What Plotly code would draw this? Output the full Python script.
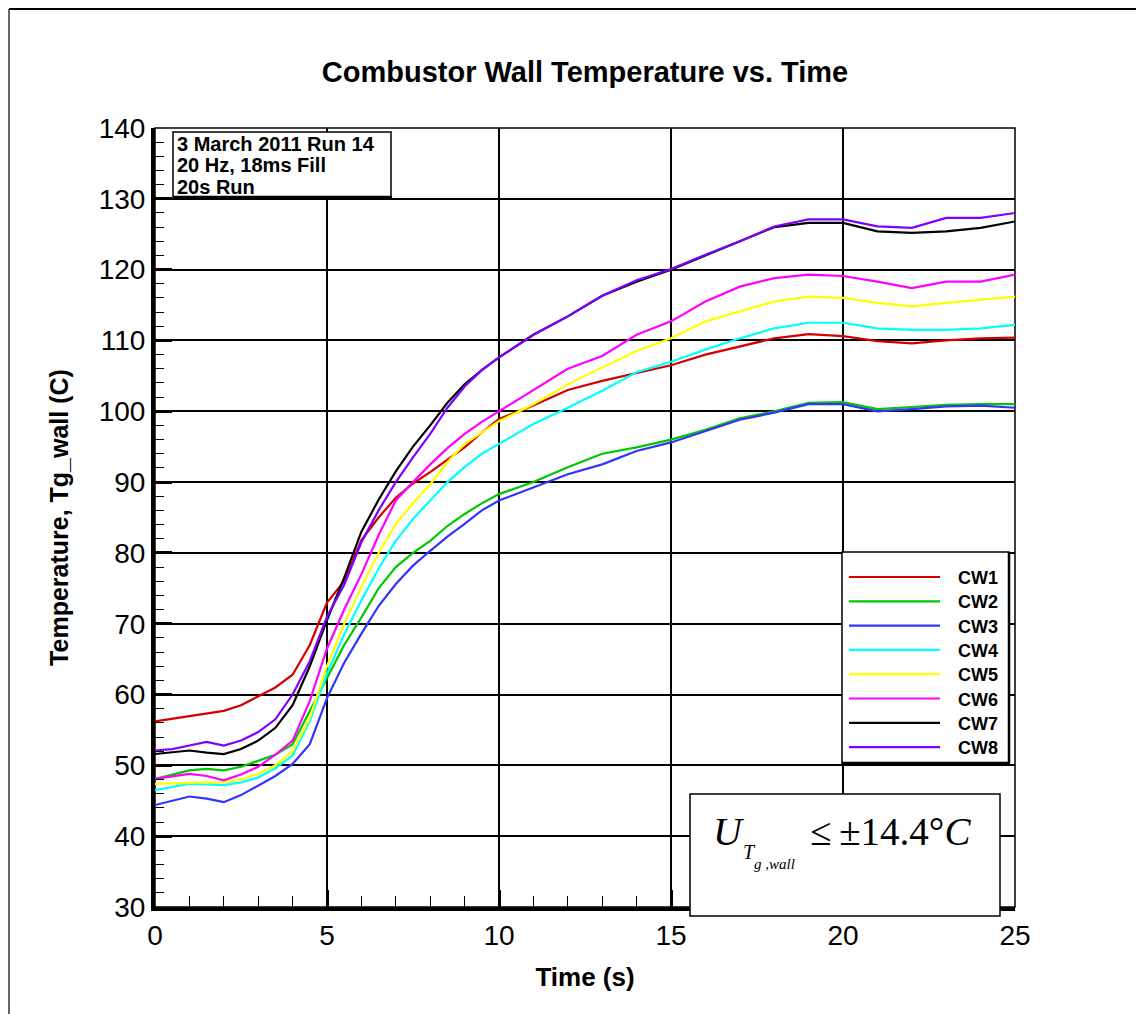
import plotly.graph_objects as go

# ---------------- data ----------------
time_s = [0, 0.5, 1, 1.5, 2, 2.5, 3, 3.5, 4, 4.5, 5, 5.5, 6, 6.5, 7, 7.5, 8, 8.5, 9, 9.5,
          10, 11, 12, 13, 14, 15, 16, 17, 18, 19, 20, 21, 22, 23, 24, 25]

cw1 = [56.2, 56.6, 57.0, 57.3, 57.7, 58.5, 59.8, 61.0, 62.8, 67.0, 73.0, 76.0, 81.8, 85.0, 87.8, 89.8,
       91.4, 93.2, 94.9, 97.0, 98.9, 100.8, 103.0, 104.3, 105.4, 106.5, 108.0, 109.2, 110.3, 110.9,
       110.6, 109.9, 109.6, 110.0, 110.3, 110.4]
cw2 = [48.1, 48.7, 49.3, 49.5, 49.3, 49.8, 50.7, 51.5, 53.0, 57.7, 62.5, 67.0, 70.9, 75.0, 78.0, 80.0,
       81.7, 83.8, 85.5, 87.0, 88.3, 90.0, 92.1, 94.0, 94.9, 96.0, 97.4, 99.0, 100.0, 101.2,
       101.3, 100.3, 100.6, 100.9, 101.0, 101.0]
cw3 = [44.4, 45.0, 45.6, 45.3, 44.8, 45.8, 47.2, 48.5, 50.2, 53.0, 59.5, 64.5, 68.6, 72.5, 75.6, 78.2,
       80.3, 82.3, 84.1, 86.0, 87.4, 89.3, 91.1, 92.5, 94.4, 95.6, 97.2, 98.8, 99.8, 101.0,
       101.0, 100.0, 100.3, 100.7, 100.8, 100.5]
cw4 = [46.5, 46.9, 47.4, 47.3, 47.2, 47.6, 48.3, 49.6, 51.4, 56.3, 63.0, 68.5, 73.3, 77.8, 81.7, 84.8,
       87.4, 90.0, 92.1, 94.0, 95.4, 98.2, 100.5, 102.9, 105.5, 107.0, 108.7, 110.3, 111.7, 112.5,
       112.5, 111.7, 111.5, 111.5, 111.7, 112.2]
cw5 = [47.4, 47.5, 47.6, 47.6, 47.6, 48.0, 48.8, 50.0, 52.0, 56.7, 64.0, 70.0, 75.2, 80.0, 84.1, 87.0,
       89.7, 92.8, 95.4, 97.0, 98.6, 101.0, 103.8, 106.2, 108.5, 110.3, 112.7, 114.1, 115.5, 116.2,
       116.0, 115.3, 114.8, 115.3, 115.8, 116.2]
cw6 = [48.1, 48.4, 48.8, 48.5, 47.9, 48.7, 49.8, 51.5, 53.5, 59.1, 66.5, 72.0, 77.0, 82.5, 87.4, 90.0,
       92.5, 94.8, 96.8, 98.5, 100.0, 102.9, 106.0, 107.8, 110.8, 112.7, 115.5, 117.6, 118.8, 119.3,
       119.1, 118.3, 117.4, 118.3, 118.3, 119.3]
cw7 = [51.6, 51.8, 52.1, 51.8, 51.6, 52.3, 53.5, 55.3, 58.5, 64.0, 70.5, 76.5, 83.0, 87.5, 91.5, 95.0,
       98.0, 101.2, 103.8, 105.8, 107.6, 110.8, 113.4, 116.3, 118.3, 120.0, 122.0, 124.0, 126.0, 126.6,
       126.6, 125.4, 125.2, 125.4, 125.9, 126.8]
cw8 = [52.1, 52.3, 52.8, 53.3, 52.8, 53.5, 54.7, 56.5, 60.0, 64.7, 71.0, 75.5, 81.5, 86.0, 90.0, 93.5,
       96.8, 100.5, 103.5, 105.8, 107.6, 110.8, 113.4, 116.3, 118.5, 120.1, 122.1, 124.0, 126.1, 127.1,
       127.1, 126.1, 125.9, 127.3, 127.3, 128.0]

series_names = ["CW1", "CW2", "CW3", "CW4", "CW5", "CW6", "CW7", "CW8"]
series_values = [cw1, cw2, cw3, cw4, cw5, cw6, cw7, cw8]
series_colors = ["#d40000", "#00c800", "#3333ff", "#00ffff", "#ffff00", "#ff00ff", "#000000", "#8000ff"]

x_ticks = [0, 5, 10, 15, 20, 25]
y_ticks = [30, 40, 50, 60, 70, 80, 90, 100, 110, 120, 130, 140]

info_lines = ["3 March 2011 Run 14", "20 Hz, 18ms Fill", "20s Run"]

# ---------------- layout geometry (page pixels of the 1144x1014 window) ----------------
OFF = 8                      # default body margin of the html page
W, H = 1144 - OFF, 1014 - OFF
PL, PR, PT, PB = 155, 1015, 128, 907   # plot area edges in page pixels


def px(xp):
    return (xp - PL) / (PR - PL)


def py(yp):
    return (PB - yp) / (PB - PT)


FONT = "Liberation Sans, Arial, sans-serif"
SERIF = "Liberation Serif, Times New Roman, serif"

fig = go.Figure()
for name, vals, col in zip(series_names, series_values, series_colors):
    fig.add_trace(go.Scatter(x=time_s, y=vals, mode="lines", name=name,
                             line=dict(color=col, width=2.2), showlegend=False))

shapes = []
annotations = []

# outer page frame (top and left edges)
shapes.append(dict(type="line", xref="paper", yref="paper", x0=px(9), x1=px(1150), y0=py(9), y1=py(9),
                   line=dict(color="black", width=2), layer="above"))
shapes.append(dict(type="line", xref="paper", yref="paper", x0=px(9), x1=px(9), y0=py(9), y1=py(1020),
                   line=dict(color="black", width=1.2), layer="above"))

# thin frame around plot (top / right)
shapes.append(dict(type="rect", xref="paper", yref="paper", x0=0, x1=1, y0=0, y1=1,
                   line=dict(color="black", width=1.5), layer="below"))

# info box
shapes.append(dict(type="rect", xref="paper", yref="paper", x0=px(173), x1=px(391), y0=py(197), y1=py(132),
                   line=dict(color="black", width=1.5), fillcolor="white", layer="above"))
shapes.append(dict(type="line", xref="paper", yref="paper", x0=px(173), x1=px(392), y0=py(197), y1=py(197),
                   line=dict(color="black", width=2.5), layer="above"))
for i, line in enumerate(info_lines):
    annotations.append(dict(text=line, xref="paper", yref="paper", x=px(175), y=py(144 + 21.5 * i),
                            xanchor="left", yanchor="middle", showarrow=False,
                            font=dict(family=FONT, size=20, color="black", weight="bold")))

# legend box (drawn manually to match the long line samples)
shapes.append(dict(type="rect", xref="paper", yref="paper", x0=px(842), x1=px(1009), y0=py(763), y1=py(552),
                   line=dict(color="black", width=1.5), fillcolor="white", layer="above"))
shapes.append(dict(type="line", xref="paper", yref="paper", x0=px(842), x1=px(1010), y0=py(763), y1=py(763),
                   line=dict(color="black", width=2.5), layer="above"))
shapes.append(dict(type="line", xref="paper", yref="paper", x0=px(1009), x1=px(1009), y0=py(763), y1=py(552),
                   line=dict(color="black", width=2.5), layer="above"))
for i, (name, col) in enumerate(zip(series_names, series_colors)):
    yy = 577 + 24.3 * i
    shapes.append(dict(type="line", xref="paper", yref="paper", x0=px(849), x1=px(940), y0=py(yy), y1=py(yy),
                       line=dict(color=col, width=2.2), layer="above"))
    annotations.append(dict(text=name, xref="paper", yref="paper", x=px(956), y=py(yy + 1),
                            xanchor="left", yanchor="middle", showarrow=False,
                            font=dict(family=FONT, size=18, color="black", weight="bold")))

# uncertainty box
shapes.append(dict(type="rect", xref="paper", yref="paper", x0=px(690), x1=px(1000), y0=py(916), y1=py(794),
                   line=dict(color="black", width=1.5), fillcolor="white", layer="above"))
annotations.append(dict(text="<i>U</i>", xref="paper", yref="paper", x=px(711), y=py(831),
                        xanchor="left", yanchor="middle", showarrow=False,
                        font=dict(family=SERIF, size=40, color="black")))
annotations.append(dict(text="<i>T</i>", xref="paper", yref="paper", x=px(741), y=py(852),
                        xanchor="left", yanchor="middle", showarrow=False,
                        font=dict(family=SERIF, size=20, color="black")))
annotations.append(dict(text="<i>g ,wall</i>", xref="paper", yref="paper", x=px(752), y=py(864),
                        xanchor="left", yanchor="middle", showarrow=False,
                        font=dict(family=SERIF, size=15, color="black")))
annotations.append(dict(text="\u2264\u2009\u00b114.4\u00b0<i>C</i>", xref="paper", yref="paper",
                        x=px(808), y=py(831), xanchor="left", yanchor="middle", showarrow=False,
                        font=dict(family=SERIF, size=39, color="black")))

fig.update_layout(
    width=W, height=H,
    margin=dict(l=PL - OFF, r=W - (PR - OFF), t=PT - OFF, b=H - (PB - OFF), autoexpand=False),
    paper_bgcolor="white", plot_bgcolor="white",
    title=dict(text="<b>Combustor Wall Temperature vs. Time</b>", x=0.5, xref="paper",
               y=1 - (72 - OFF) / H, yref="container", xanchor="center", yanchor="middle",
               font=dict(family=FONT, size=29, color="black")),
    shapes=shapes, annotations=annotations,
    font=dict(family=FONT, color="black"),
    showlegend=False,
)

fig.update_xaxes(
    range=[0, 25], tickvals=x_ticks, ticktext=[str(v) for v in x_ticks],
    showline=True, linecolor="black", linewidth=4, mirror=False,
    ticks="inside", ticklen=17, tickwidth=3, tickcolor="black",
    showgrid=True, gridcolor="black", gridwidth=1.5, zeroline=False,
    tickfont=dict(family=FONT, size=28, color="black"),
    minor=dict(ticks="inside", ticklen=11, tickwidth=1.2, tickcolor="black", dtick=1, showgrid=False),
    title=dict(text="<b>Time (s)</b>", font=dict(family=FONT, size=26, color="black"), standoff=19),
)
fig.update_yaxes(
    range=[30, 140], tickvals=y_ticks, ticktext=[str(v) for v in y_ticks],
    showline=True, linecolor="black", linewidth=4, mirror=False,
    ticks="inside", ticklen=17, tickwidth=3, tickcolor="black",
    showgrid=True, gridcolor="black", gridwidth=1.5, zeroline=False,
    tickfont=dict(family=FONT, size=28, color="black"),
    minor=dict(ticks="inside", ticklen=9, tickwidth=1.2, tickcolor="black", dtick=2, showgrid=False),
    title=dict(text="<b>Temperature, Tg_wall (C)</b>", font=dict(family=FONT, size=25, color="black"),
               standoff=24),
)

fig.write_html("out.html")
